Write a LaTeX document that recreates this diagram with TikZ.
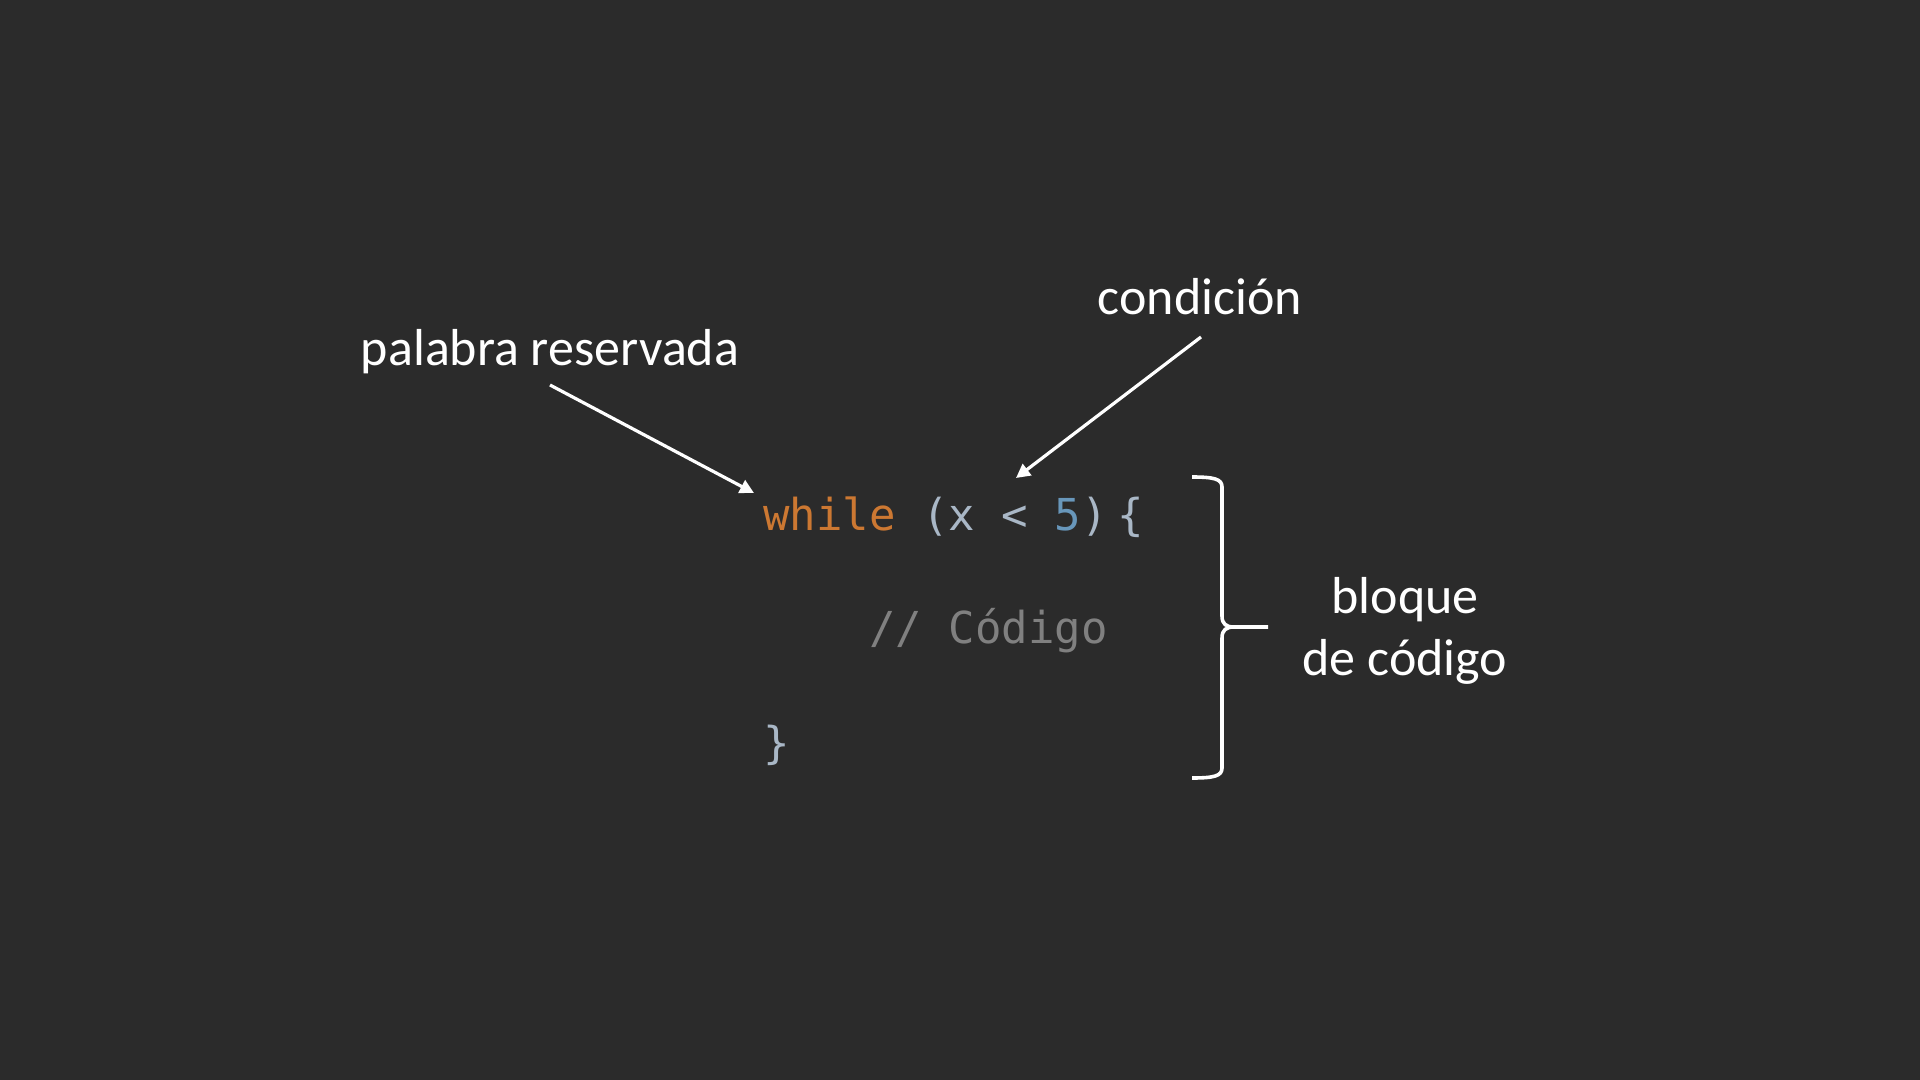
\documentclass[tikz,border=0pt]{standalone}
\usepackage{fontspec}
\usetikzlibrary{arrows.meta}
\newfontfamily\lblfont{Carlito}
\newfontfamily\codefont{DejaVu Sans Mono}
\definecolor{bgc}{HTML}{2B2B2B}
\definecolor{kwc}{HTML}{CC7832}
\definecolor{plc}{HTML}{A9B7C6}
\definecolor{numc}{HTML}{6897BB}
\definecolor{cmc}{HTML}{808080}
\tikzset{
  lbl/.style={inner sep=0pt, anchor=base, text=white, font=\lblfont\fontsize{26}{31}\selectfont},
  codeline/.style={inner sep=0pt, anchor=base west, text=plc, font=\codefont\fontsize{22}{26}\selectfont},
  arr/.style={draw=white, line width=1.6pt, -{Triangle[length=7pt,width=7pt]}},
  bracepath/.style={draw=white, line width=1.8pt, line join=round, line cap=butt}
}
\begin{document}
\begin{tikzpicture}[x=0.5pt,y=-0.5pt]
\fill[bgc] (0,0) rectangle (1920,1080);
\useasboundingbox (0,0) rectangle (1920,1080);
% labels
\node[lbl] (pal) at (550,365) {palabra reservada};
\node[lbl] (cond) at (1200,315) {condición};
\node[lbl] (blq1) at (1405,613) {bloque};
\node[lbl] (blq2) at (1405,675) {de código};
% code
\node[codeline] (l1) at (763,530) {\textcolor{kwc}{while} (x < \textcolor{numc}{5})\hspace{5pt}\{};
\node[codeline, text=cmc] (l2) at (869,643) {// Código};
\node[codeline] (l3) at (763,758) {\}};
% arrows
\coordinate (a1s) at (550,385);
\coordinate (a1e) at (754,493);
\coordinate (a2s) at (1201,337);
\coordinate (a2e) at (1016,478);
\draw[arr] (a1s) -- (a1e);
\draw[arr] (a2s) -- (a2e);
% brace
\coordinate (bt) at (1192,477);
\coordinate (bm) at (1234,627);
\coordinate (btip) at (1268,627);
\coordinate (bb) at (1192,778);
\draw[bracepath] (bt) .. controls (1214,477) and (1222,479) .. (1222,487)
  -- (1222,616) .. controls (1222,624) and (1226,627) .. (bm) -- (btip);
\draw[bracepath] (bm) .. controls (1226,627) and (1222,630) .. (1222,638)
  -- (1222,768) .. controls (1222,776) and (1214,778) .. (bb);
\end{tikzpicture}
\end{document}
